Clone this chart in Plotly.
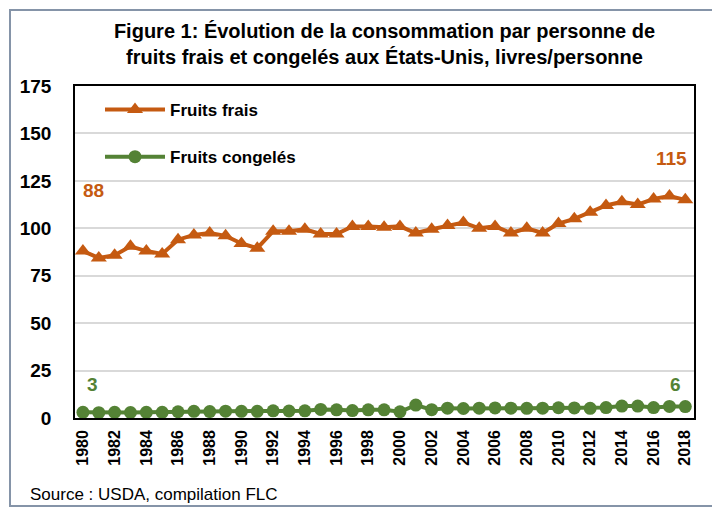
import plotly.graph_objects as go

years = list(range(1980, 2019))
frais = [88, 84.4, 85.8, 90.5, 88, 86.5, 94, 96.5, 97.5, 96, 92, 89.5,
         98.5, 98.5, 99.5, 97, 97, 101, 101, 100.5, 101,
         97.5, 99.5, 101.5, 103, 100, 101, 97.5, 100, 97.5, 102.5, 105,
         108.5, 112, 114, 112.5, 115.5, 117, 115]
congeles = [3, 2.8, 3, 2.9, 3, 3, 3.3, 3.5, 3.4, 3.6, 3.5, 3.5,
            3.8, 3.7, 3.8, 4.5, 4.3, 3.9, 4.3, 4.3, 3.3,
            6.8, 4.4, 5.2, 5.0, 5.2, 5.3, 5.2, 5.1, 5.2, 5.4, 5.3,
            5.1, 5.5, 6.3, 6.3, 5.5, 6.1, 6.0]
y_ticks = [0, 25, 50, 75, 100, 125, 150, 175]

ORANGE = "#C55A11"
GREEN = "#548235"
FONT = "Liberation Sans Narrow, Liberation Sans, Arial"

# screen pixel -> paper coordinate helpers (page has an 8px body offset)
def px(x):
    return (x - 75) / 619

def py(y):
    return (418 - y) / 332

fig = go.Figure()
fig.add_trace(go.Scatter(
    x=years, y=frais, name="<b>Fruits frais</b>", mode="lines+markers",
    line=dict(color=ORANGE, width=4),
    marker=dict(symbol="triangle-up", size=14, color=ORANGE),
    legendgroup="a"))
fig.add_trace(go.Scatter(
    x=years, y=congeles, name="<b>Fruits congelés</b>", mode="lines+markers",
    line=dict(color=GREEN, width=4),
    marker=dict(symbol="circle", size=13, color=GREEN),
    legendgroup="b"))

annos = [
    (1980.65, 120, "88", ORANGE),
    (2017.1, 137, "115", ORANGE),
    (1980.6, 17.5, "3", GREEN),
    (2017.4, 17.5, "6", GREEN),
]
for x, y, t, c in annos:
    fig.add_annotation(x=x, y=y, text=f"<b>{t}</b>", showarrow=False,
                       font=dict(family=FONT, size=19, color=c))

fig.add_annotation(xref="paper", yref="paper", x=px(28), y=py(494),
                   xanchor="left", yanchor="middle", showarrow=False,
                   text="Source : USDA, compilation FLC",
                   font=dict(family=FONT, size=17, color="#000"))

# outer frame
fig.add_shape(type="rect", xref="paper", yref="paper",
              x0=px(10), x1=px(717), y0=py(506), y1=py(10),
              line=dict(color="#8594a8", width=2), layer="above")

fig.update_layout(
    width=720, height=508,
    margin=dict(l=67, r=34, t=78, b=98),
    paper_bgcolor="white", plot_bgcolor="white",
    title=dict(text="<b>Figure 1: Évolution de la consommation par personne de<br>fruits frais et congelés aux États-Unis, livres/personne</b>",
               x=0.5, xref="paper", xanchor="center",
               y=1 - 30 / 508, yref="container", yanchor="middle",
               font=dict(family=FONT, size=20, color="#000")),
    showlegend=True,
    legend=dict(x=px(100), y=py(92), xanchor="left", yanchor="top",
                bgcolor="rgba(0,0,0,0)", traceorder="grouped", tracegroupgap=22,
                itemwidth=60,
                font=dict(family=FONT, size=17, color="#000")),
    xaxis=dict(range=[1979.5, 2018.55], tickmode="array",
               tickvals=years[::2], ticktext=[f"<b>{y}</b>" for y in years[::2]],
               tickangle=-90, showgrid=False, showline=True, linecolor="#000",
               linewidth=1.5, mirror=True, ticks="", zeroline=False,
               ticklabelstandoff=4,
               tickfont=dict(family="Liberation Sans, Arial", size=16, color="#000")),
    yaxis=dict(range=[0, 175], tickmode="array", tickvals=y_ticks,
               ticktext=[f"<b>{v}</b>" for v in y_ticks],
               showgrid=True, gridcolor="#d9d9d9", gridwidth=1.5,
               showline=True, linecolor="#000", linewidth=1.5, mirror=True,
               zeroline=False, ticks="", ticklabelstandoff=18,
               tickfont=dict(family=FONT, size=19, color="#000")),
)

fig.write_html("out.html")
